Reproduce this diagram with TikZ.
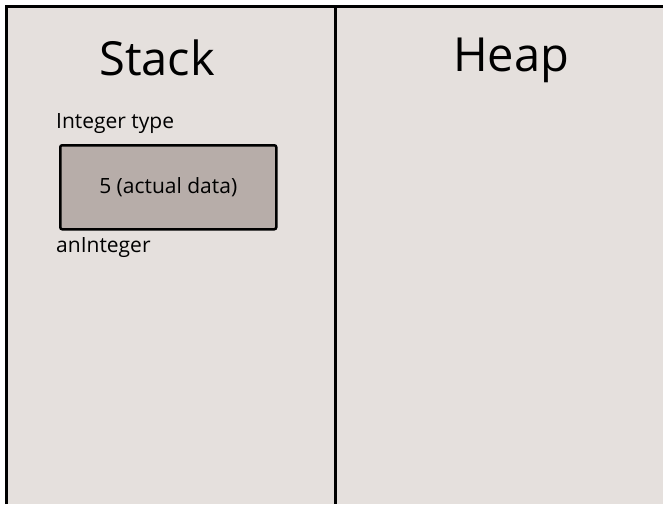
\documentclass[tikz,border=0pt]{standalone}
\usepackage{fontspec}
\setmainfont{Open Sans}
\definecolor{bgc}{HTML}{E5E0DD}
\definecolor{boxc}{HTML}{B7ADA9}
\begin{document}
\begin{tikzpicture}[x=1pt,y=-1pt,
  title/.style={font=\fontsize{47}{52}\selectfont, anchor=base, inner sep=0pt},
  lbl/.style={font=\fontsize{21}{25}\selectfont, anchor=base west, inner sep=0pt},
  databox/.style={draw=black, line width=2.5pt, fill=boxc, rounded corners=2pt,
     minimum width=216pt, minimum height=84pt, anchor=north west, inner sep=0pt,
     font=\fontsize{21}{25}\selectfont}]
\useasboundingbox (0,0) rectangle (663,504);
\fill[white] (0,0) rectangle (663,504);
\fill[bgc] (6,6) rectangle (663,504);
\draw[line width=2.5pt] (6.5,504) -- (6.5,6.5) -- (663,6.5);
\draw[line width=2.5pt] (335.5,6) -- (335.5,504);
\node[title] (stack) at (157,75) {Stack};
\node[title] (heap) at (511,71) {Heap};
\node[lbl] (itype) at (56,128) {Integer type};
\node[databox] (box) at (59,144) {5 (actual data)};
\node[lbl] (name) at (56,252) {anInteger};
\end{tikzpicture}
\end{document}
